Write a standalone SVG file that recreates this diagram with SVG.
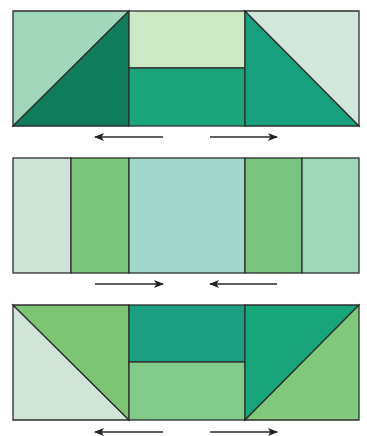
<svg xmlns="http://www.w3.org/2000/svg" width="367" height="436" viewBox="0 0 367 436">
<style>
.p{stroke:#2e2e2e;stroke-width:1.3;stroke-linejoin:miter}
.a{stroke:#2a2a2a;stroke-width:1.3;fill:none;marker-end:url(#ah)}
</style>
<defs>
<marker id="ah" viewBox="0 0 10 8" refX="9" refY="4" markerWidth="10" markerHeight="8" markerUnits="userSpaceOnUse" orient="auto">
<path d="M0,0 L10,4 L0,8 L2.5,4 Z" fill="#222"/>
</marker>
</defs>
<rect width="367" height="436" fill="#ffffff"/>
<g id="block-top">
<polygon class="p" points="13,11 129,11 13,126" fill="#a0d6b9"/>
<polygon class="p" points="129,11 129,126 13,126" fill="#0e7c5b"/>
<rect class="p" x="129" y="11" width="116" height="57" fill="#cde8c5"/>
<rect class="p" x="129" y="68" width="116" height="58" fill="#1aa57a"/>
<polygon class="p" points="245,11 359,126 245,126" fill="#16a07d"/>
<polygon class="p" points="245,11 359,11 359,126" fill="#d2e7db"/>
</g>
<g id="block-middle">
<rect class="p" x="13" y="158" width="58" height="115" fill="#cde3d5"/>
<rect class="p" x="71" y="158" width="58" height="115" fill="#7cc67b"/>
<rect class="p" x="129" y="158" width="116" height="115" fill="#a0d8cb"/>
<rect class="p" x="245" y="158" width="57" height="115" fill="#79c47f"/>
<rect class="p" x="302" y="158" width="57" height="115" fill="#9ed7b7"/>
</g>
<g id="block-bottom">
<polygon class="p" points="13,305 129,420 13,420" fill="#cfe6d6"/>
<polygon class="p" points="13,305 129,305 129,420" fill="#7cc573"/>
<rect class="p" x="129" y="305" width="116" height="57" fill="#1c9f80"/>
<rect class="p" x="129" y="362" width="116" height="58" fill="#81ca8b"/>
<polygon class="p" points="245,305 359,305 245,420" fill="#17a67a"/>
<polygon class="p" points="359,305 359,420 245,420" fill="#81c97b"/>
</g>
<g id="connectors">
<line class="a" x1="163" y1="137" x2="95" y2="137"/>
<line class="a" x1="210" y1="137" x2="277" y2="137"/>
<line class="a" x1="95" y1="284" x2="163" y2="284"/>
<line class="a" x1="277" y1="284" x2="210" y2="284"/>
<line class="a" x1="163" y1="432" x2="95" y2="432"/>
<line class="a" x1="210" y1="432" x2="277" y2="432"/>
</g>
</svg>
